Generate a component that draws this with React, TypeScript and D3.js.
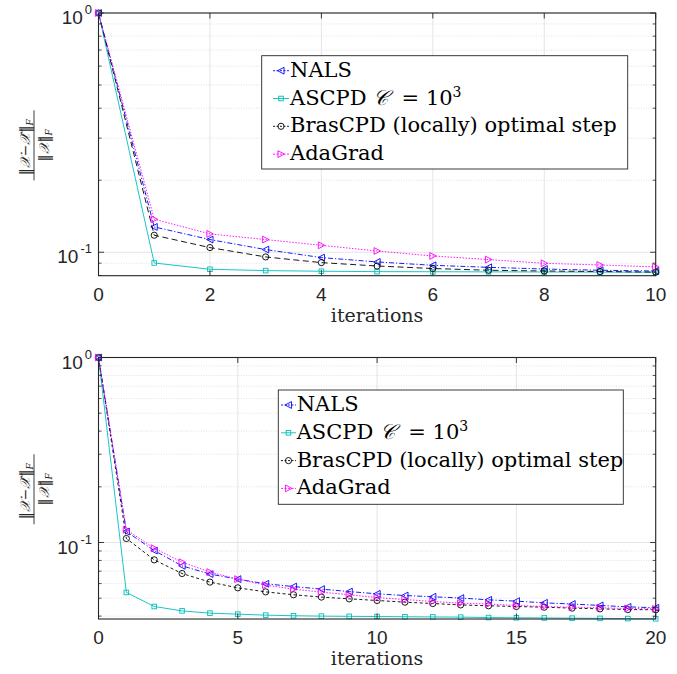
import React from 'react'
import * as d3 from 'd3'

const W = 677
const H = 674

// iterations on the x axis
const topIters = [0, 1, 2, 3, 4, 5, 6, 7, 8, 9, 10]
const bottomIters = [0, 1, 2, 3, 4, 5, 6, 7, 8, 9, 10, 11, 12, 13, 14, 15, 16, 17, 18, 19, 20]

// top panel: relative error per iteration
const topNals = [1, 0.1276, 0.113, 0.1026, 0.095, 0.0911, 0.0882, 0.0865, 0.0851, 0.0841, 0.0835]
const topAscpd = [1, 0.0902, 0.0849, 0.0838, 0.0833, 0.083, 0.0829, 0.0828, 0.0827, 0.0826, 0.0825]
const topBras = [1, 0.1178, 0.1046, 0.0956, 0.0905, 0.0876, 0.0855, 0.0841, 0.0835, 0.0831, 0.0826]
const topAda = [1, 0.1374, 0.1193, 0.113, 0.1069, 0.1012, 0.0965, 0.0932, 0.0899, 0.0885, 0.0868]

// bottom panel
const botNals = [1, 0.1147, 0.0905, 0.0748, 0.0675, 0.0634, 0.0598, 0.0578, 0.056, 0.0543, 0.0528,
  0.0517, 0.0509, 0.0501, 0.049, 0.0482, 0.0472, 0.0465, 0.0457, 0.0449, 0.0444]
const botAscpd = [1, 0.0537, 0.0451, 0.0427, 0.0415, 0.041, 0.0405, 0.0402, 0.04, 0.0399, 0.0398,
  0.0397, 0.0396, 0.0395, 0.0393, 0.0392, 0.0391, 0.039, 0.0389, 0.0388, 0.0387]
const botBras = [1, 0.1051, 0.0806, 0.068, 0.0611, 0.0569, 0.0541, 0.0522, 0.0507, 0.0496, 0.0486,
  0.0476, 0.0468, 0.046, 0.0455, 0.0451, 0.0447, 0.0442, 0.0438, 0.0434, 0.0433]
const botAda = [1, 0.1172, 0.0932, 0.0783, 0.0692, 0.0634, 0.0588, 0.056, 0.0539, 0.0522, 0.0504,
  0.0492, 0.048, 0.047, 0.0465, 0.0457, 0.0451, 0.0447, 0.0444, 0.044, 0.0438]

const topXTicks = [0, 2, 4, 6, 8, 10]
const bottomXTicks = [0, 5, 10, 15, 20]

const seriesKeys = ['nals', 'ascpd', 'bras', 'ada']

const styles = {
  nals: { color: '#0000ff', marker: 'triLeft' },
  ascpd: { color: '#00bebe', marker: 'square' },
  bras: { color: '#000000', marker: 'circle' },
  ada: { color: '#ff00ff', marker: 'triRight' },
}

const axisColor = '#262626'
const sans = { fontFamily: "'Liberation Sans', Arial, Helvetica, sans-serif" }
const serif = { fontFamily: "'DejaVu Serif', serif" }
const script = { fontFamily: "'DejaVu Serif', serif", fontStyle: 'italic' }

function Marker({ type, x, y, color }) {
  const s = 3.4
  if (type === 'circle') return <circle cx={x} cy={y} r={3.1} fill="none" stroke={color} strokeWidth={0.9} />
  if (type === 'square') return <rect x={x - 2.3} y={y - 2.3} width={4.6} height={4.6} fill="none" stroke={color} strokeWidth={0.9} />
  const pts = type === 'triLeft'
    ? [[x - s, y], [x + s * 0.9, y - s], [x + s * 0.9, y + s]]
    : [[x + s, y], [x - s * 0.9, y - s], [x - s * 0.9, y + s]]
  return <polygon points={pts.map(p => p.join(',')).join(' ')} fill="none" stroke={color} strokeWidth={0.9} />
}

function LegendLabel({ k }) {
  if (k === 'nals') return <>NALS</>
  if (k === 'bras') return <>BrasCPD (locally) optimal step</>
  if (k === 'ada') return <>AdaGrad</>
  return (
    <>
      {'ASCPD\u00a0'}<tspan style={script}>𝒞</tspan>{'\u00a0\u00a0=\u00a010'}
      <tspan fontSize={14} dy={-8}>3</tspan>
    </>
  )
}

function YLabel({ cy }) {
  return (
    <g transform={`translate(34,${cy}) rotate(-90)`} fill={axisColor} fontSize={14}>
      <line x1={-35} x2={35} y1={0} y2={0} stroke={axisColor} strokeWidth={0.9} />
      <text x={-2} y={-4} textAnchor="middle" style={serif}>
        ‖<tspan style={script}>𝒳</tspan>−<tspan style={script}>𝒳̂</tspan>‖
        <tspan fontSize={9} fontStyle="italic" dy={3}>F</tspan>
      </text>
      <text x={0} y={15} textAnchor="middle" style={serif}>
        ‖<tspan style={script}>𝒳</tspan>‖
        <tspan fontSize={9} fontStyle="italic" dy={3}>F</tspan>
      </text>
    </g>
  )
}

function Panel({ top, bottom, iters, xTicks, yMin, data, legend, brasDash }) {
  const left = 98.5
  const right = 655.7
  const x = d3.scaleLinear().domain([0, iters[iters.length - 1]]).range([left, right])
  const y = d3.scaleLog().domain([yMin, 1]).range([bottom, top])

  const majors = [1, 0.1].filter(v => v >= yMin)
  const minors = []
  for (const dec of [0.1, 0.01]) {
    for (let m = 2; m <= 9; m++) {
      const v = m * dec
      if (v > yMin && v < 1) minors.push(v)
    }
  }

  const dashes = { nals: '5,2,1.2,2', ascpd: null, bras: brasDash, ada: '1.5,1.5' }
  const line = d3.line().x(d => x(d[0])).y(d => y(d[1]))

  return (
    <g>
      {/* grid */}
      {xTicks.map(t => (
        <line key={'gx' + t} x1={x(t)} x2={x(t)} y1={top} y2={bottom} stroke="#dedede" strokeWidth={0.8} />
      ))}
      {minors.map(v => (
        <line key={'gm' + v} x1={left} x2={right} y1={y(v)} y2={y(v)} stroke="#d4d4d4" strokeWidth={0.7} strokeDasharray="1,1.5" />
      ))}
      {majors.map(v => (
        <line key={'gy' + v} x1={left} x2={right} y1={y(v)} y2={y(v)} stroke="#dedede" strokeWidth={0.8} />
      ))}

      {/* series */}
      {seriesKeys.map(k => {
        const st = styles[k]
        const pts = iters.map((it, i) => [it, data[k][i]])
        return (
          <g key={k}>
            <path d={line(pts)} fill="none" stroke={st.color} strokeWidth={0.9}
              strokeDasharray={dashes[k] || undefined} />
            {pts.map((p, i) => (
              <Marker key={i} type={st.marker} x={x(p[0])} y={y(p[1])} color={st.color} />
            ))}
          </g>
        )
      })}

      {/* axes box */}
      <rect x={left} y={top} width={right - left} height={bottom - top} fill="none" stroke={axisColor} strokeWidth={1.1} />
      {xTicks.map(t => (
        <g key={'tx' + t}>
          <line x1={x(t)} x2={x(t)} y1={bottom} y2={bottom - 5.5} stroke={axisColor} strokeWidth={0.9} />
          <line x1={x(t)} x2={x(t)} y1={top} y2={top + 5.5} stroke={axisColor} strokeWidth={0.9} />
          <text x={x(t)} y={bottom + 25} textAnchor="middle" style={sans} fontSize={19} fill={axisColor}>{t}</text>
        </g>
      ))}
      {majors.map(v => (
        <g key={'ty' + v}>
          <line x1={left} x2={left + 5.5} y1={y(v)} y2={y(v)} stroke={axisColor} strokeWidth={0.9} />
          <line x1={right} x2={right - 5.5} y1={y(v)} y2={y(v)} stroke={axisColor} strokeWidth={0.9} />
          <text x={92} y={y(v) + 11} textAnchor="end" style={sans} fontSize={19} fill={axisColor}>
            10<tspan fontSize={13} dy={-10} dx={2}>{Math.round(Math.log10(v))}</tspan>
          </text>
        </g>
      ))}
      {minors.map(v => (
        <g key={'tm' + v}>
          <line x1={left} x2={left + 3} y1={y(v)} y2={y(v)} stroke={axisColor} strokeWidth={0.8} />
          <line x1={right} x2={right - 3} y1={y(v)} y2={y(v)} stroke={axisColor} strokeWidth={0.8} />
        </g>
      ))}

      <text x={(left + right) / 2} y={bottom + 46} textAnchor="middle" style={serif} fontSize={19} fill={axisColor}>iterations</text>
      <YLabel cy={(top + bottom) / 2 + 1} />

      {/* legend */}
      <g>
        <rect x={legend.x} y={legend.y} width={legend.w} height={legend.h} fill="#ffffff" stroke={axisColor} strokeWidth={0.9} />
        {seriesKeys.map((k, i) => {
          const st = styles[k]
          const base = legend.y + 21 + i * 27.8
          const cy = base - 6
          return (
            <g key={'lg' + k}>
              <line x1={legend.s0} x2={legend.s1} y1={cy} y2={cy} stroke={st.color} strokeWidth={0.9}
                strokeDasharray={k === 'ascpd' ? undefined : '2,1.5'} />
              <Marker type={st.marker} x={(legend.s0 + legend.s1) / 2} y={cy} color={st.color} />
              <text x={legend.tx} y={base} style={serif} fontSize={21} fill="#000">
                <LegendLabel k={k} />
              </text>
            </g>
          )
        })}
      </g>
    </g>
  )
}

export default function App() {
  const topData = { nals: topNals, ascpd: topAscpd, bras: topBras, ada: topAda }
  const botData = { nals: botNals, ascpd: botAscpd, bras: botBras, ada: botAda }
  return (
    <svg width={W} height={H} style={{ position: 'absolute', left: 0, top: 0, background: '#fff' }}>
      <rect width={W} height={H} fill="#fff" />
      <Panel top={13} bottom={275.7} iters={topIters} xTicks={topXTicks} yMin={0.0798} data={topData}
        brasDash="6,3.5"
        legend={{ x: 261.7, y: 55.7, w: 366, h: 113.3, s0: 273, s1: 289, tx: 290 }} />
      <Panel top={357.5} bottom={619} iters={bottomIters} xTicks={bottomXTicks} yMin={0.0386} data={botData}
        brasDash="3,2.5"
        legend={{ x: 278.3, y: 390, w: 345, h: 114.3, s0: 281, s1: 296, tx: 296.7 }} />
    </svg>
  )
}
